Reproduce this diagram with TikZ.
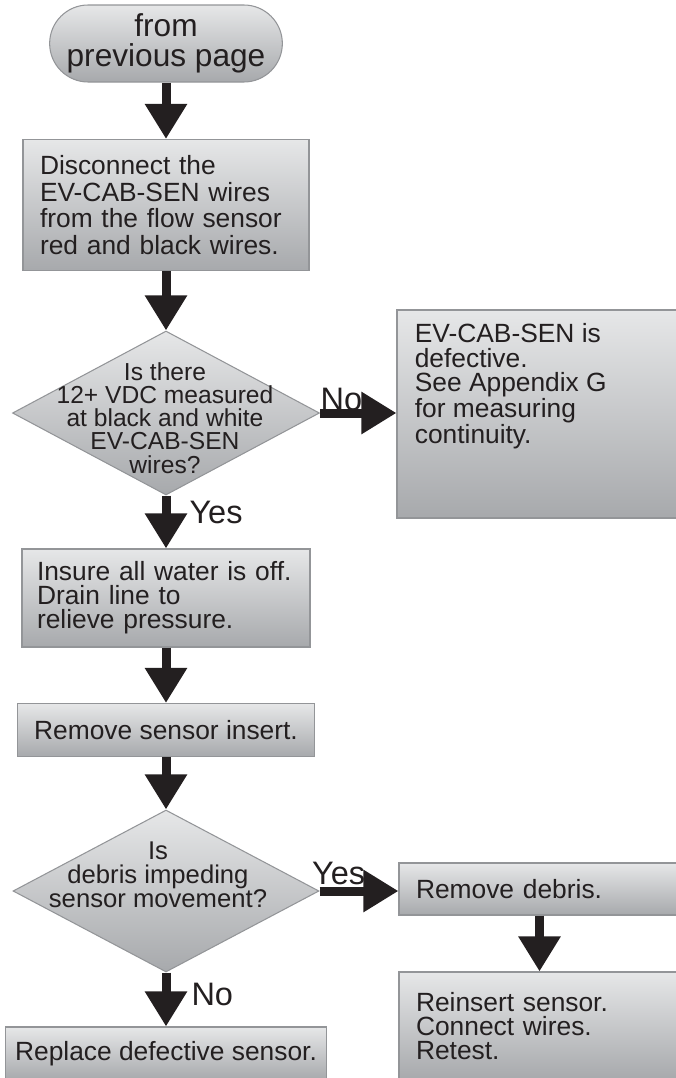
\documentclass[tikz,border=0pt]{standalone}
\usepackage{fontspec}
\setmainfont{Liberation Sans}
\usetikzlibrary{arrows.meta, shapes.geometric}
\definecolor{textDark}{HTML}{231F20}
\definecolor{boxTop}{HTML}{E6E7E8}
\definecolor{boxBot}{HTML}{A7A9AC}
\definecolor{boxEdge}{HTML}{939598}

\begin{document}
\begin{tikzpicture}[
    stepbox/.style={rectangle, draw=boxEdge, line width=0.6pt,
                    top color=boxTop, bottom color=boxBot, text=textDark,
                    font=\fontsize{15}{13.7}\selectfont,
                    inner xsep=0.34cm, inner ysep=0pt, align=left},
    decision/.style={diamond, draw=boxEdge, line width=0.6pt,
                     top color=boxTop, bottom color=boxBot, inner sep=0pt},
    ask/.style={text=textDark, align=center, inner sep=0pt},
    note/.style={text=textDark, align=left, inner sep=0pt,
                 font=\fontsize{15}{13.7}\selectfont},
    lbl/.style={text=textDark, inner sep=0pt, font=\fontsize{18.5}{18.5}\selectfont},
    flow/.style={draw=textDark, line width=0.18cm,
                 -{Triangle[length=0.7cm, width=0.8cm]}},
  ]
  \useasboundingbox (0,0) rectangle (13.5,-21.56);

  % main column
  \node[stepbox, rounded corners=0.77cm, align=center, minimum width=4.58cm,
        minimum height=1.54cm, font=\fontsize{18}{17.4}\selectfont]
        (start) at (3.32,-0.87) {from\\previous page};
  \node[stepbox, text width=5.04cm, minimum height=2.62cm,
        font=\fontsize{15}{15.2}\selectfont] (unplug) at (3.32,-4.10)
        {Disconnect the\\EV-CAB-SEN wires\\from the flow sensor\\red and black wires.};

  \node[decision, minimum width=6.14cm, minimum height=3.28cm] (volts) at (3.32,-8.26) {};
  \node[ask, font=\fontsize{14}{13.2}\selectfont] (voltsq) at (3.30,-8.36)
        {Is there\\12+ VDC measured\\at black and white\\EV-CAB-SEN\\wires?};

  \node[stepbox, inner xsep=0.30cm, text width=5.16cm, minimum height=1.96cm]
        (drain) at (3.32,-11.96)
        {Insure all water is off.\\Drain line to\\relieve pressure.};
  \node[stepbox, align=center, minimum width=5.76cm, minimum height=1.06cm]
        (pull) at (3.32,-14.60) {Remove sensor insert.};

  \node[decision, minimum width=6.12cm, minimum height=3.24cm] (stuck) at (3.32,-17.82) {};
  \node[ask, font=\fontsize{14.6}{13.6}\selectfont] (stuckq) at (3.16,-17.50)
        {Is\\debris impeding\\sensor movement?};

  \node[stepbox, align=center, inner xsep=0.16cm, minimum width=6.42cm,
        minimum height=1.06cm] (swap) at (3.32,-21.07) {Replace defective sensor.};

  % right column
  \node[stepbox, minimum width=5.66cm, minimum height=4.16cm] (badcab) at (10.77,-8.28) {};
  \node[note, anchor=north west] (badtxt) at ([xshift=0.36cm, yshift=-0.28cm]badcab.north west)
        {EV-CAB-SEN is\\defective.\\See Appendix G\\for measuring\\continuity.};

  \node[stepbox, text width=4.94cm, minimum height=1.04cm] (clean) at (10.79,-17.78)
        {Remove debris.};
  \node[stepbox, text width=4.94cm, minimum height=2.16cm] (refit) at (10.79,-20.52)
        {Reinsert sensor.\\Connect wires.\\Retest.};

  % arrows
  \draw[flow] (start) -- (unplug);
  \draw[flow] (unplug) -- (volts);
  \draw[flow] (volts.south) -- node[lbl, pos=0, anchor=base west, xshift=0.38cm, yshift=-0.56cm] {Yes} (drain.north);
  \draw[flow] (volts.east) -- node[lbl, pos=0, anchor=base west, xshift=-0.08cm, yshift=0.06cm] {No} (volts.east -| badcab.west);
  \draw[flow] (drain) -- (pull);
  \draw[flow] (pull) -- (stuck);
  \draw[flow] (stuck.south) -- node[lbl, pos=0, anchor=base west, xshift=0.42cm, yshift=-0.66cm] {No} (swap.north);
  \draw[flow] (stuck.east) -- node[lbl, pos=0, anchor=base west, xshift=-0.24cm, yshift=0.14cm] {Yes} (stuck.east -| clean.west);
  \draw[flow] (clean) -- (refit);
\end{tikzpicture}
\end{document}
